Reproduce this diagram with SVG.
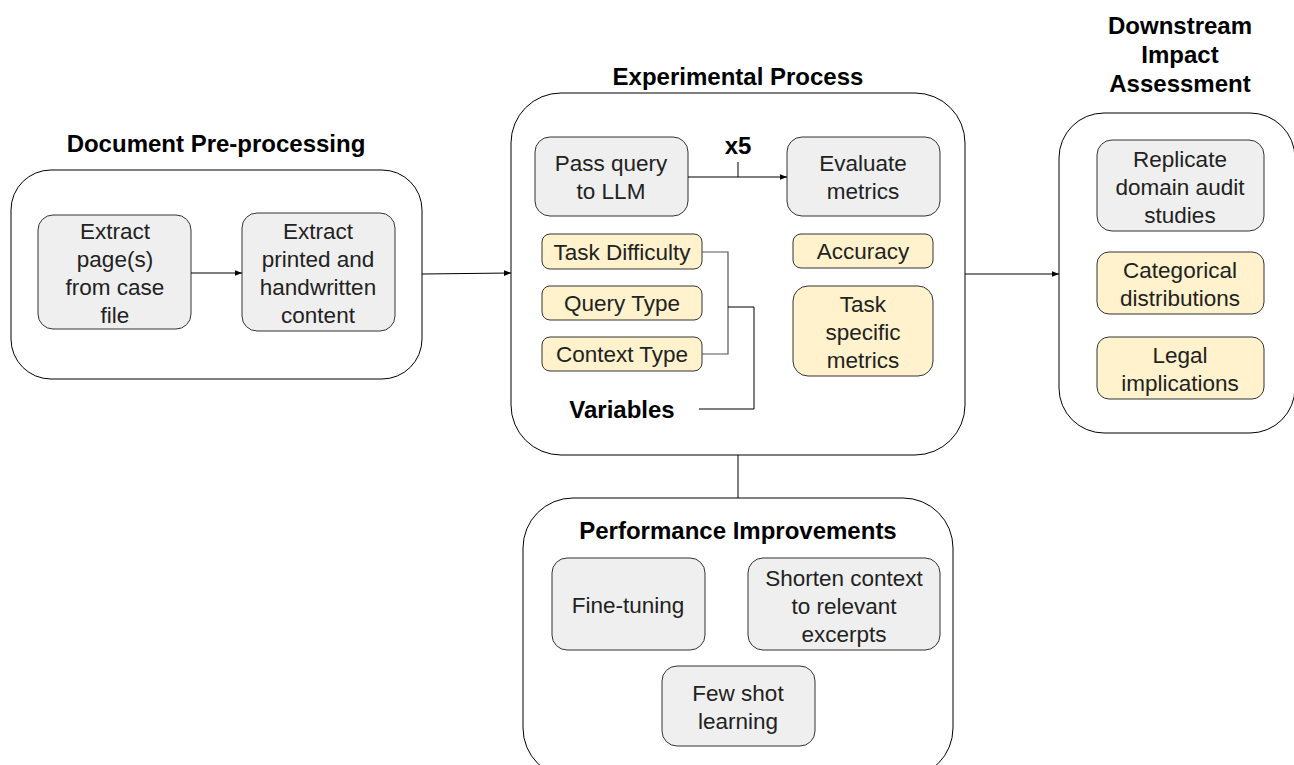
<svg xmlns="http://www.w3.org/2000/svg" width="1294" height="765" viewBox="0 0 1294 765">
<defs>
<style>
.outer{fill:#fff;stroke:#000;stroke-width:1}
.g{fill:#efefef;stroke:#333;stroke-width:1}
.y{fill:#fff2cc;stroke:#333;stroke-width:1}
.t{font-family:"Liberation Sans",Arial,sans-serif;font-size:22.5px;fill:#222;text-anchor:middle}
.h{font-family:"Liberation Sans",Arial,sans-serif;font-size:24px;font-weight:bold;fill:#000;text-anchor:middle}
.c{fill:none;stroke:#000;stroke-width:1}
.cg{fill:none;stroke:#555;stroke-width:1.2}
</style>
<marker id="ah" viewBox="0 0 10 10" refX="10" refY="5" markerWidth="7" markerHeight="7" markerUnits="userSpaceOnUse" orient="auto">
<path d="M0,1 L10,5 L0,9 z" fill="#000"/>
</marker>
</defs>

<g id="doc-preprocessing">
<text class="h" x="216" y="152">Document Pre-processing</text>
<rect class="outer" x="11" y="170" width="411" height="209" rx="40"/>
</g>
<g id="extract-pages">
<rect class="g" x="38" y="215" width="153" height="114" rx="15"/>
<text class="t" x="115" y="239">Extract</text>
<text class="t" x="115" y="267">page(s)</text>
<text class="t" x="115" y="295">from case</text>
<text class="t" x="115" y="323">file</text>
</g>
<g id="extract-content">
<rect class="g" x="242" y="213" width="153" height="118" rx="15"/>
<text class="t" x="318" y="239">Extract</text>
<text class="t" x="318" y="267">printed and</text>
<text class="t" x="318" y="295">handwritten</text>
<text class="t" x="318" y="323">content</text>
</g>

<g id="experimental-process">
<text class="h" x="738" y="85">Experimental Process</text>
<rect class="outer" x="511" y="93" width="454" height="362" rx="50"/>
</g>
<g id="pass-query">
<rect class="g" x="535" y="137" width="153" height="79" rx="15"/>
<text class="t" x="611" y="171">Pass query</text>
<text class="t" x="611" y="199">to LLM</text>
</g>
<g id="evaluate-metrics">
<rect class="g" x="787" y="137" width="153" height="79" rx="15"/>
<text class="t" x="863" y="171">Evaluate</text>
<text class="t" x="863" y="199">metrics</text>
</g>
<g id="x5-label">
<text class="h" x="738" y="154">x5</text>
</g>
<g id="task-difficulty">
<rect class="y" x="542" y="234" width="160" height="35" rx="8"/>
<text class="t" x="622" y="260">Task Difficulty</text>
</g>
<g id="query-type">
<rect class="y" x="542" y="286" width="160" height="34" rx="8"/>
<text class="t" x="622" y="311">Query Type</text>
</g>
<g id="context-type">
<rect class="y" x="542" y="337" width="160" height="34" rx="8"/>
<text class="t" x="622" y="362">Context Type</text>
</g>
<g id="variables">
<text class="h" x="622" y="418">Variables</text>
</g>
<g id="accuracy">
<rect class="y" x="793" y="234" width="140" height="34" rx="8"/>
<text class="t" x="863" y="259">Accuracy</text>
</g>
<g id="task-specific-metrics">
<rect class="y" x="793" y="286" width="140" height="90" rx="15"/>
<text class="t" x="863" y="312">Task</text>
<text class="t" x="863" y="340">specific</text>
<text class="t" x="863" y="368">metrics</text>
</g>

<g id="downstream-impact">
<text class="h" x="1180" y="34">Downstream</text>
<text class="h" x="1180" y="63">Impact</text>
<text class="h" x="1180" y="92">Assessment</text>
<rect class="outer" x="1059" y="113" width="236" height="320" rx="45"/>
</g>
<g id="replicate-studies">
<rect class="g" x="1097" y="140" width="167" height="91" rx="15"/>
<text class="t" x="1180" y="167">Replicate</text>
<text class="t" x="1180" y="195">domain audit</text>
<text class="t" x="1180" y="223">studies</text>
</g>
<g id="categorical-distributions">
<rect class="y" x="1097" y="252" width="167" height="62" rx="12"/>
<text class="t" x="1180" y="278">Categorical</text>
<text class="t" x="1180" y="306">distributions</text>
</g>
<g id="legal-implications">
<rect class="y" x="1097" y="337" width="167" height="62" rx="12"/>
<text class="t" x="1180" y="363">Legal</text>
<text class="t" x="1180" y="391">implications</text>
</g>

<g id="performance-improvements">
<rect class="outer" x="523" y="498" width="430" height="280" rx="50"/>
<text class="h" x="738" y="539">Performance Improvements</text>
</g>
<g id="fine-tuning">
<rect class="g" x="552" y="558" width="153" height="92" rx="15"/>
<text class="t" x="628" y="613">Fine-tuning</text>
</g>
<g id="shorten-context">
<rect class="g" x="748" y="558" width="192" height="92" rx="15"/>
<text class="t" x="844" y="586">Shorten context</text>
<text class="t" x="844" y="614">to relevant</text>
<text class="t" x="844" y="642">excerpts</text>
</g>
<g id="few-shot">
<rect class="g" x="662" y="666" width="153" height="80" rx="15"/>
<text class="t" x="738" y="701">Few shot</text>
<text class="t" x="738" y="729">learning</text>
</g>

<g id="connectors">
<line class="c" x1="191" y1="273" x2="242" y2="273" marker-end="url(#ah)"/>
<line class="c" x1="422" y1="274" x2="511" y2="273" marker-end="url(#ah)"/>
<line class="c" x1="688" y1="177" x2="787" y2="177" marker-end="url(#ah)"/>
<line class="c" x1="738" y1="162" x2="738" y2="177"/>
<line class="c" x1="965" y1="274" x2="1059" y2="274" marker-end="url(#ah)"/>
<line class="c" x1="738" y1="455" x2="738" y2="498"/>
<polyline class="cg" points="702,252 728,252 728,354 702,354"/>
<polyline class="c" points="728,307 754,307 754,409 699,409"/>
</g>
</svg>
